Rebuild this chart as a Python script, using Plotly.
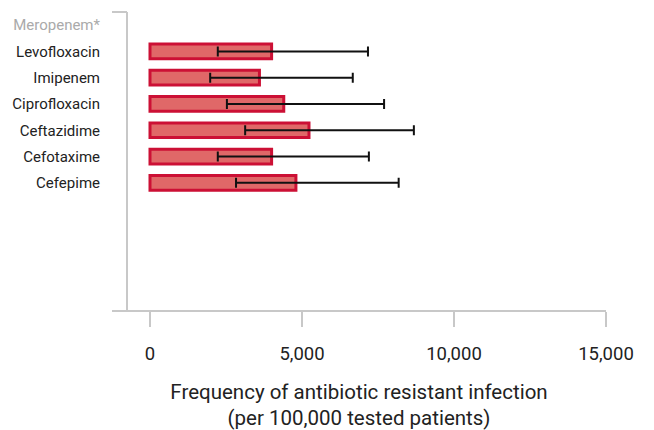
import plotly.graph_objects as go

categories = ["Meropenem*", "Levofloxacin", "Imipenem", "Ciprofloxacin",
              "Ceftazidime", "Cefotaxime", "Cefepime"]
values = [None, 4000, 3600, 4400, 5230, 4000, 4800]
err_low = [None, 2230, 1980, 2530, 3130, 2230, 2830]
err_high = [None, 7170, 6670, 7700, 8680, 7200, 8180]
x_tickvals = [0, 5000, 10000, 15000]
x_ticktext = ["0", "5,000", "10,000", "15,000"]

ypos = list(range(len(categories)))
ticktext = []
for c, v in zip(categories, values):
    if v is None:
        ticktext.append(f"<span style='color:#aaaaaa'>{c}</span>")
    else:
        ticktext.append(c)

mid = [None if lo is None else (lo + hi) / 2 for lo, hi in zip(err_low, err_high)]
half = [None if lo is None else (hi - lo) / 2 for lo, hi in zip(err_low, err_high)]

fig = go.Figure()
fig.add_trace(go.Bar(
    y=ypos, x=values, orientation="h", width=0.56,
    marker=dict(color="#e06868", line=dict(color="#cc1035", width=3)),
    hoverinfo="skip",
))
fig.add_trace(go.Scatter(
    y=ypos, x=mid, mode="markers",
    marker=dict(size=1, color="rgba(0,0,0,0)"),
    error_x=dict(type="data", array=half, symmetric=True, color="#111111",
                 thickness=2, width=5),
    hoverinfo="skip",
))

font_family = "Roboto, 'DejaVu Sans', sans-serif"
fig.update_layout(
    width=654, height=430,
    margin=dict(l=104, r=56, t=4, b=128),
    plot_bgcolor="white", paper_bgcolor="white",
    showlegend=False,
    font=dict(family=font_family, color="#222222"),
    xaxis=dict(
        range=[-1250, 15000], tickvals=x_tickvals, ticktext=x_ticktext,
        automargin=False,
        showgrid=False, zeroline=False, showline=True, linecolor="#c8c8c8",
        linewidth=2, ticks="outside", ticklen=15, tickwidth=1.5, tickcolor="#c8c8c8",
        tickfont=dict(size=18.5, color="#222222"), ticklabelstandoff=11,
        title=dict(text="Frequency of antibiotic resistant infection<br>(per 100,000 tested patients)",
                   font=dict(size=20.5, color="#222222"), standoff=20),
    ),
    yaxis=dict(
        range=[10.84, -0.5], tickvals=ypos, ticktext=ticktext,
        automargin=False,
        showgrid=False, zeroline=False, showline=False, ticks="",
        tickfont=dict(size=15, color="#222222"), ticklabelstandoff=11,
    ),
)
y_line_x = -757
fig.add_shape(type="line", xref="x", yref="paper", x0=y_line_x, x1=y_line_x, y0=0, y1=1,
              line=dict(color="#c8c8c8", width=2))
fig.add_shape(type="line", xref="x", yref="paper", x0=-1250, x1=y_line_x, y0=1, y1=1,
              line=dict(color="#c8c8c8", width=2))

fig.write_html("out.html")
